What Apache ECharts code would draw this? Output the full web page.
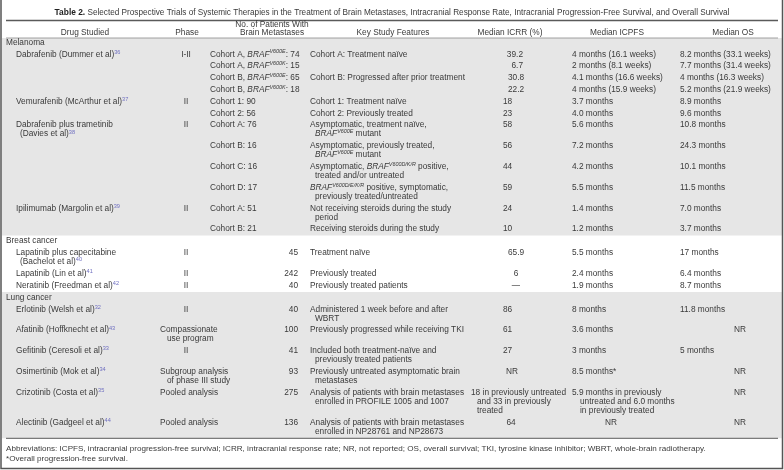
<!DOCTYPE html>
<html><head><meta charset="utf-8">
<script src="https://cdn.jsdelivr.net/npm/echarts@6/dist/echarts.min.js"></script>
<style>html,body{margin:0;padding:0;background:#fff}#c{width:784px;height:470px}</style>
</head><body><div id="c"></div>
<script>
// ---------------- DATA ----------------
const titleBold = 'Table 2.';
const titleText = 'Selected Prospective Trials of Systemic Therapies in the Treatment of Brain Metastases, Intracranial Response Rate, Intracranial Progression-Free Survival, and Overall Survival';
const headers = ['Drug Studied', 'Phase', 'No. of Patients With\nBrain Metastases', 'Key Study Features', 'Median ICRR (%)', 'Median ICPFS', 'Median OS'];
const sections = ['Melanoma', 'Breast cancer', 'Lung cancer'];
const rowSection = [0,0,0,0,0,0,0,0,0,0,0,0, 1,1,1, 2,2,2,2,2,2];
const drugs = [
  'Dabrafenib (Dummer et al)[36]', '', '', '',
  'Vemurafenib (McArthur et al)[37]', '',
  'Dabrafenib plus trametinib\n(Davies et al)[38]', '', '', '',
  'Ipilimumab (Margolin et al)[39]', '',
  'Lapatinib plus capecitabine\n(Bachelot et al)[40]', 'Lapatinib (Lin et al)[41]', 'Neratinib (Freedman et al)[42]',
  'Erlotinib (Welsh et al)[32]', 'Afatinib (Hoffknecht et al)[43]', 'Gefitinib (Ceresoli et al)[33]',
  'Osimertinib (Mok et al)[34]', 'Crizotinib (Costa et al)[35]', 'Alectinib (Gadgeel et al)[44]'
];
const phases = [
  'I-II', '', '', '', 'II', '', 'II', '', '', '', 'II', '',
  'II', 'II', 'II',
  'II', 'Compassionate\nuse program', 'II', 'Subgroup analysis\nof phase III study', 'Pooled analysis', 'Pooled analysis'
];
const patients = [
  'Cohort A, BRAF^V600E^: 74', 'Cohort A, BRAF^V600K^: 15', 'Cohort B, BRAF^V600E^: 65', 'Cohort B, BRAF^V600K^: 18',
  'Cohort 1: 90', 'Cohort 2: 56', 'Cohort A: 76', 'Cohort B: 16', 'Cohort C: 16', 'Cohort D: 17', 'Cohort A: 51', 'Cohort B: 21',
  '45', '242', '40',
  '40', '100', '41', '93', '275', '136'
];
const features = [
  'Cohort A: Treatment naïve', '', 'Cohort B: Progressed after prior treatment', '',
  'Cohort 1: Treatment naïve', 'Cohort 2: Previously treated',
  'Asymptomatic, treatment naïve,\nBRAF^V600E^ mutant',
  'Asymptomatic, previously treated,\nBRAF^V600E^ mutant',
  'Asymptomatic, BRAF^V600D/K/R^ positive,\ntreated and/or untreated',
  'BRAF^V600D/E/K/R^ positive, symptomatic,\npreviously treated/untreated',
  'Not receiving steroids during the study\nperiod', 'Receiving steroids during the study',
  'Treatment naïve', 'Previously treated', 'Previously treated patients',
  'Administered 1 week before and after\nWBRT', 'Previously progressed while receiving TKI',
  'Included both treatment-naïve and\npreviously treated patients',
  'Previously untreated asymptomatic brain\nmetastases',
  'Analysis of patients with brain metastases\nenrolled in PROFILE 1005 and 1007',
  'Analysis of patients with brain metastases\nenrolled in NP28761 and NP28673'
];
const icrr = [
  '39.2', '6.7', '30.8', '22.2', '18', '23', '58', '56', '44', '59', '24', '10',
  '65.9', '6', '—',
  '86', '61', '27', 'NR', '18 in previously untreated\nand 33 in previously\ntreated', '64'
];
const icpfs = [
  '4 months (16.1 weeks)', '2 months (8.1 weeks)', '4.1 months (16.6 weeks)', '4 months (15.9 weeks)',
  '3.7 months', '4.0 months', '5.6 months', '7.2 months', '4.2 months', '5.5 months', '1.4 months', '1.2 months',
  '5.5 months', '2.4 months', '1.9 months',
  '8 months', '3.6 months', '3 months', '8.5 months*',
  '5.9 months in previously\nuntreated and 6.0 months\nin previously treated', 'NR'
];
const os = [
  '8.2 months (33.1 weeks)', '7.7 months (31.4 weeks)', '4 months (16.3 weeks)', '5.2 months (21.9 weeks)',
  '8.9 months', '9.6 months', '10.8 months', '24.3 months', '10.1 months', '11.5 months', '7.0 months', '3.7 months',
  '17 months', '6.4 months', '8.7 months',
  '11.8 months', 'NR', '5 months', 'NR', 'NR', 'NR'
];
const footnotes = [
  'Abbreviations: ICPFS, intracranial progression-free survival; ICRR, intracranial response rate; NR, not reported; OS, overall survival; TKI, tyrosine kinase inhibitor; WBRT, whole-brain radiotherapy.',
  '*Overall progression-free survival.'
];

// ---------------- STYLE / LAYOUT ----------------
const FONT = '"Liberation Sans", Arial, sans-serif';
const FS = 8.3;
const TXT = '#3a3a3a';
const REFC = '#6f6fc0';
const SHADE = '#e6e6e6';
const L = {
  titleX: 392, titleY: 13, topRuleY: 20.5,
  head1Y: 24.5, head2Y: 33, headRuleY: 38,
  firstY: 42.5, LH: 9, RG: 11.8, secGap: 12,
  left: 6, right: 778
};
const headX = [85, 187, 272, 393, 510, 617, 733];

function rich(str) {
  return str.replace(/BRAF\^([^^]+)\^/g, '{i|BRAF}{s|$1}').replace(/\[(\d+)\]/g, '{r|$1}');
}
const richStyles = {
  i: { fontStyle: 'italic', fontSize: FS, fontFamily: FONT, fill: TXT, lineHeight: 10 },
  s: { fontStyle: 'italic', fontSize: 5.4, fontFamily: FONT, fill: TXT, lineHeight: 5, verticalAlign: 'top' },
  r: { fontSize: 5.6, fontFamily: FONT, fill: REFC, lineHeight: 5, verticalAlign: 'top' },
  b: { fontWeight: 'bold', fontSize: 8.4, fontFamily: FONT, fill: '#222', lineHeight: 10 },
  t: { fontSize: 8.2, fontFamily: FONT, fill: TXT, lineHeight: 10 }
};
const els = [];
function txt(x, y, s, align, extra) {
  els.push({
    type: 'text', x: x, y: y, silent: true, z: 10,
    style: Object.assign({
      text: rich(s), rich: richStyles, fontSize: FS, fontFamily: FONT, fill: TXT,
      align: align || 'left', verticalAlign: 'middle', lineHeight: 10
    }, extra || {})
  });
}
function hline(y, w, c) {
  els.push({ type: 'line', silent: true, z: 5, shape: { x1: L.left, y1: y, x2: L.right, y2: y }, style: { stroke: c, lineWidth: w } });
}
function rect(y1, y2, c) {
  els.push({ type: 'rect', silent: true, z: 1, shape: { x: 2, y: y1, width: 780, height: y2 - y1 }, style: { fill: c } });
}

function cellLines(col, i, s) {
  const lines = s.split('\n');
  return lines.map((t, k) => {
    let x, a = 'left';
    if (col === 0) { x = k ? 20 : 16; }
    else if (col === 1) {
      if (s.length > 5) { x = k ? 167 : 160; } else { x = 186; a = 'center'; }
    }
    else if (col === 2) {
      if (rowSection[i] === 0) { x = 210; } else { x = 298; a = 'right'; }
    }
    else if (col === 3) { x = k ? 315 : 310; }
    else if (col === 4) {
      if (i <= 1) { x = 523; a = 'right'; }
      else if (i <= 3) { x = 508; }
      else if (rowSection[i] === 1) { x = 516; a = 'center'; }
      else if (lines.length > 1) { x = k ? 477 : 471; }
      else if (s === 'NR') { x = 506; }
      else if (i === 20) { x = 511; a = 'center'; }
      else { x = 503; }
    }
    else if (col === 5) {
      if (s === 'NR') { x = 611; a = 'center'; }
      else { x = k ? 580 : 572; }
    }
    else {
      if (s === 'NR') { x = 746; a = 'right'; } else { x = 680; }
    }
    return { x: x, a: a, t: t };
  });
}

els.push({
  type: 'text', x: L.titleX, y: L.titleY, silent: true,
  style: { text: '{b|' + titleBold + '}{t| ' + titleText + '}', rich: richStyles, fontSize: 8.2, fontFamily: FONT, fill: TXT, align: 'center', verticalAlign: 'middle' }
});
hline(L.topRuleY, 1.6, '#5a5a5a');
headers.forEach((h, c) => {
  const parts = h.split('\n');
  if (parts.length === 2) { txt(headX[c], L.head1Y, parts[0], 'center'); txt(headX[c], L.head2Y, parts[1], 'center'); }
  else txt(headX[c], L.head2Y, h, 'center');
});
hline(L.headRuleY, 0.8, '#8a8a8a');

const cols = [drugs, phases, patients, features, icrr, icpfs, os];
let y = L.firstY, cur = -1, prevLast = null;
const secBounds = [];
for (let i = 0; i < drugs.length; i++) {
  if (rowSection[i] !== cur) {
    if (cur !== -1) { y = prevLast + L.secGap; secBounds.push((prevLast + y) / 2 + 0.5); }
    cur = rowSection[i];
    txt(L.left, y, sections[cur], 'left');
    y += L.RG;
  } else {
    y = prevLast + L.RG;
  }
  let n = 1;
  cols.forEach((arr, c) => {
    const s = arr[i];
    if (!s) return;
    const ls = cellLines(c, i, s);
    n = Math.max(n, ls.length);
    ls.forEach((o, k) => txt(o.x, y + k * L.LH, o.t, o.a));
  });
  prevLast = y + (n - 1) * L.LH;
}
const footRuleY = prevLast + 7;
rect(L.headRuleY, secBounds[0], SHADE);
rect(secBounds[1], footRuleY, SHADE);
hline(footRuleY, 1, '#5a5a5a');
footnotes.forEach((f, k) => txt(L.left, footRuleY + 10.5 + k * 10, f, 'left', { fontSize: 8.1 }));

els.push({ type: 'polyline', silent: true, z: 20, shape: { points: [[1, 0], [1, 468.5], [782.5, 468.5], [782.5, 0]] }, style: { stroke: '#555', lineWidth: 1.5, fill: null } });

const chart = echarts.init(document.getElementById('c'), null, { renderer: 'canvas' });
chart.setOption({ animation: false, graphic: { elements: els } });
</script>
</body></html>
